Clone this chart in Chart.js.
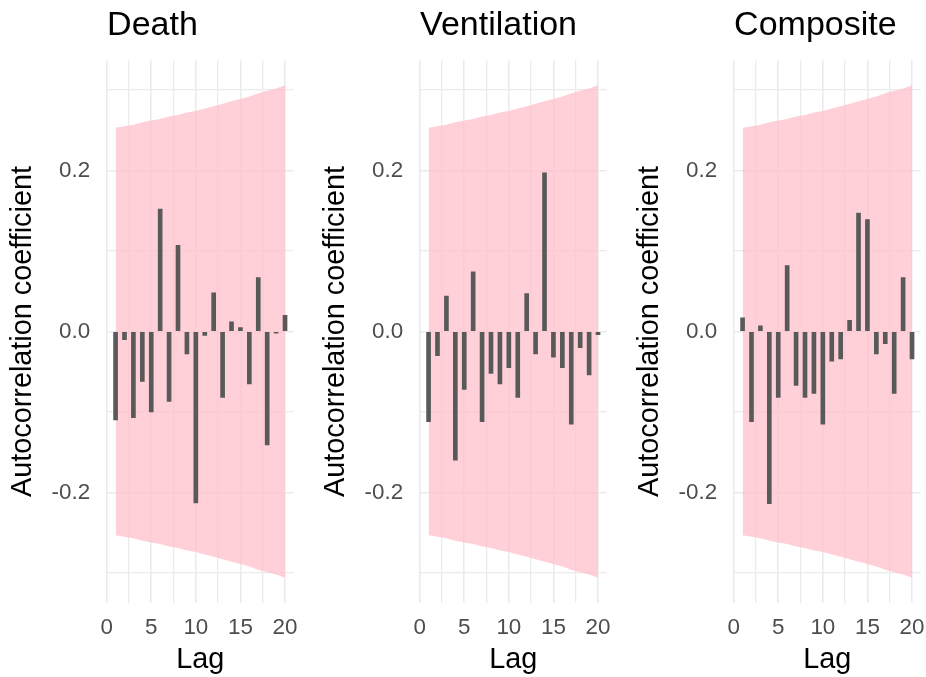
<!DOCTYPE html>
<html>
<head>
<meta charset="utf-8">
<script src="https://cdn.jsdelivr.net/npm/chart.js@4/dist/chart.umd.min.js"></script>
<style>
  body { margin: 0; background: #fff; }
  #wrap { position: relative; width: 926px; height: 677px; overflow: hidden; }
  canvas { position: absolute; top: 0; }
</style>
</head>
<body>
<div id="wrap">
  <canvas id="death" width="313" height="677" style="left:0px"></canvas>
  <canvas id="ventilation" width="313" height="677" style="left:313px"></canvas>
  <canvas id="composite" width="313" height="677" style="left:627px"></canvas>
</div>
<script>
//data block
const lags = [1, 2, 3, 4, 5, 6, 7, 8, 9, 10, 11, 12, 13, 14, 15, 16, 17, 18, 19, 20];

const death = [-0.110, -0.010, -0.107, -0.062, -0.100, 0.152, -0.087, 0.107, -0.028, -0.213,
               -0.005, 0.048, -0.082, 0.012, 0.005, -0.065, 0.067, -0.141, -0.002, 0.020];
const ventilation = [-0.112, -0.030, 0.044, -0.160, -0.072, 0.074, -0.112, -0.052, -0.065, -0.045,
                     -0.082, 0.047, -0.028, 0.197, -0.032, -0.045, -0.115, -0.020, -0.054, -0.004];
const composite = [0.017, -0.112, 0.007, -0.214, -0.082, 0.082, -0.067, -0.082, -0.077, -0.115,
                   -0.037, -0.034, 0.014, 0.147, 0.139, -0.028, -0.015, -0.077, 0.067, -0.034];

// confidence band
const bandUpper = [0.253, 0.255, 0.257, 0.260, 0.262, 0.264, 0.267, 0.269, 0.272, 0.274,
                   0.277, 0.280, 0.283, 0.286, 0.289, 0.292, 0.296, 0.299, 0.302, 0.306];
const bandLower = [-0.253, -0.255, -0.257, -0.260, -0.262, -0.264, -0.267, -0.269, -0.272, -0.274,
                   -0.277, -0.280, -0.283, -0.286, -0.289, -0.292, -0.296, -0.299, -0.302, -0.306];

// tick / grid positions and their labels
const xGrid = [0, 2.5, 5, 7.5, 10, 12.5, 15, 17.5, 20];
const xLabels = ['0', '', '5', '', '10', '', '15', '', '20'];
const yGrid = [-0.3, -0.2, -0.1, 0, 0.1, 0.2, 0.3];
const yLabels = ['', '-0.2', '', '0.0', '', '0.2', ''];

Chart.defaults.font.family = "'Liberation Sans', Arial, sans-serif";

function points(vals) {
    return lags.map((x, i) => ({ x: x, y: vals[i] }));
}

//config block
function makeChart(id, title, vals) {
    const config = {
        type: 'bar',
        data: {
            datasets: [
                {
                    type: 'bar',
                    data: points(vals),
                    backgroundColor: '#595959',
                    barThickness: 4,
                    order: 0
                },
                {
                    type: 'line',
                    data: points(bandUpper),
                    fill: '+1',
                    backgroundColor: 'rgba(255, 192, 203, 0.75)',
                    borderWidth: 0,
                    pointRadius: 0,
                    order: 1
                },
                {
                    type: 'line',
                    data: points(bandLower),
                    fill: false,
                    borderWidth: 0,
                    pointRadius: 0,
                    order: 2
                }
            ]
        },
        options: {
            responsive: false,
            animation: false,
            events: [],
            layout: { padding: { left: 0, right: 19.5, top: 0, bottom: 0 } },
            plugins: {
                legend: { display: false },
                tooltip: { enabled: false },
                title: {
                    display: true,
                    text: title,
                    align: 'start',
                    fullSize: false,
                    color: '#000',
                    font: { size: 34, weight: 'normal', lineHeight: 1.2 },
                    padding: { top: 5.5, bottom: 14.2 }
                }
            },
            scales: {
                x: {
                    type: 'linear',
                    min: 0.05,
                    max: 20.95,
                    offset: false,
                    border: { display: false },
                    grid: {
                        offset: false,
                        drawTicks: false,
                        color: '#ebebeb',
                        lineWidth: ctx => xLabels[ctx.index] ? 1.6 : 1.3
                    },
                    ticks: {
                        autoSkip: false,
                        maxRotation: 0,
                        padding: 12,
                        color: '#4d4d4d',
                        font: { size: 22.4 },
                        callback: (value, index) => xLabels[index]
                    },
                    title: {
                        display: true,
                        text: 'Lag',
                        color: '#000',
                        font: { size: 28.8 },
                        padding: { top: 0, bottom: 0 }
                    },
                    afterBuildTicks: scale => { scale.ticks = xGrid.map(v => ({ value: v })); },
                    afterFit: scale => { scale.height = 74.5; }
                },
                y: {
                    min: -0.3367,
                    max: 0.3367,
                    border: { display: false },
                    grid: {
                        drawTicks: false,
                        color: '#ebebeb',
                        lineWidth: ctx => yLabels[ctx.index] ? 1.6 : 1.3
                    },
                    ticks: {
                        padding: 17,
                        color: '#4d4d4d',
                        font: { size: 22.4 },
                        callback: (value, index) => yLabels[index]
                    },
                    title: {
                        display: true,
                        text: 'Autocorrelation coefficient',
                        color: '#000',
                        font: { size: 28.8 },
                        padding: { top: 6.2, bottom: 0 }
                    },
                    afterBuildTicks: scale => { scale.ticks = yGrid.map(v => ({ value: v })); },
                    afterFit: scale => { scale.width = 107.1; }
                }
            }
        }
    };
    return new Chart(document.getElementById(id), config);
}

//init and render block
makeChart('death', 'Death', death);
makeChart('ventilation', 'Ventilation', ventilation);
makeChart('composite', 'Composite', composite);
</script>
</body>
</html>
